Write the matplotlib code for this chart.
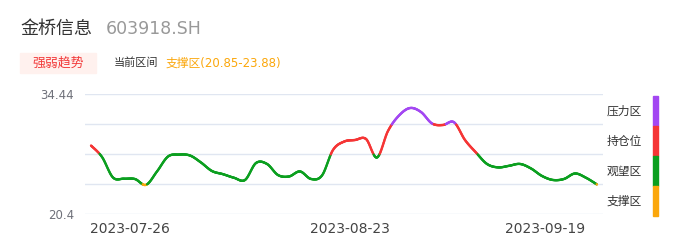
import numpy as np
import matplotlib
matplotlib.use("Agg")
import matplotlib.pyplot as plt
from matplotlib.collections import LineCollection
from matplotlib.patches import Rectangle

CJK = ['Noto Sans CJK SC', 'DejaVu Sans']
LATIN_FIRST = ['DejaVu Sans', 'Noto Sans CJK SC']

# data
prices = [28.43, 27.09, 24.68, 24.54, 24.50, 23.82, 25.39, 27.14, 27.37, 27.26,
          26.44, 25.44, 25.07, 24.65, 24.39, 26.38, 26.27, 24.97, 24.80, 25.39,
          24.51, 24.92, 27.91, 28.89, 29.08, 29.20, 27.03, 30.14, 31.95, 32.83,
          32.36, 31.02, 30.84, 31.16, 29.08, 27.61, 26.27, 25.87, 26.05, 26.27,
          25.74, 24.86, 24.39, 24.51, 25.15, 24.65, 23.86]
tick_labels = ['2023-07-26', '2023-08-23', '2023-09-19']
tick_index = [3.55, 23.55, 41.27]
y_min, y_max = 20.4, 34.44
zone_names = ['压力区', '持仓位', '观望区', '支撑区']
zone_colors = ['#a347f2', '#f53535', '#0b9f1f', '#fba70c']
support = (20.85, 23.88)
stock_name = '金桥信息'
stock_code = '603918.SH'

step = (y_max - y_min) / 4
bounds = [y_min + 3 * step, y_min + 2 * step, support[1]]  # purple/red, red/green, green/orange


def catmull(x, y, n=20):
    x = np.asarray(x, float)
    y = np.asarray(y, float)
    px = np.concatenate([[x[0]], x, [x[-1]]])
    py = np.concatenate([[y[0]], y, [y[-1]]])
    xs, ys = [], []
    t = np.linspace(0, 1, n, endpoint=False)
    for i in range(1, len(px) - 2):
        for arr, out in ((px, xs), (py, ys)):
            p0, p1, p2, p3 = arr[i - 1], arr[i], arr[i + 1], arr[i + 2]
            out.append(0.5 * ((2 * p1) + (-p0 + p2) * t
                              + (2 * p0 - 5 * p1 + 4 * p2 - p3) * t ** 2
                              + (-p0 + 3 * p1 - 3 * p2 + p3) * t ** 3))
    xs.append([x[-1]])
    ys.append([y[-1]])
    return np.concatenate(xs), np.concatenate(ys)


def zone_color(v):
    if v > bounds[0]:
        return zone_colors[0]
    if v > bounds[1]:
        return zone_colors[1]
    if v > bounds[2]:
        return zone_colors[2]
    return zone_colors[3]


fig = plt.figure(figsize=(6.86, 2.47), dpi=100)
ax = fig.add_axes([85 / 686, 1 - 214 / 247, (603 - 85) / 686, (214 - 94.3) / 247])

idx = np.arange(len(prices))
sx, sy = catmull(idx, prices)
pts = np.column_stack([sx, sy]).reshape(-1, 1, 2)
segs = np.concatenate([pts[:-1], pts[1:]], axis=1)
cols = [zone_color((a + b) / 2) for a, b in zip(sy[:-1], sy[1:])]
ax.add_collection(LineCollection(segs, colors=cols, linewidths=1.7,
                                 capstyle='round', joinstyle='round', zorder=3))

ax.set_xlim(-0.545, len(prices) - 1 + 0.545)
ax.set_ylim(y_min, y_max)
ax.set_yticks(np.linspace(y_min, y_max, 5))
ax.set_yticklabels([f'{y_min:g}', '', '', '', f'{y_max:g}'])
ax.set_xticks(tick_index)
ax.set_xticklabels(tick_labels)
ax.tick_params(axis='y', length=0, pad=8, labelsize=8.5, labelcolor='#6e7079')
ax.tick_params(axis='x', length=0, pad=6, labelsize=10, labelcolor='#444444')
ax.grid(axis='y', color='#e0e6f1', linewidth=1)
ax.set_axisbelow(True)
for s in ax.spines.values():
    s.set_visible(False)

# header
fig.text(20 / 686, 1 - 29 / 247, stock_name, family=CJK, fontsize=13,
         color='#333333', va='center', ha='left')
fig.text(106 / 686, 1 - 29 / 247, stock_code, family=LATIN_FIRST, fontsize=12.5,
         color='#999999', va='center', ha='left')
fig.patches.append(Rectangle((20 / 686, 1 - 73.5 / 247), 76 / 686, 20.5 / 247,
                             transform=fig.transFigure, color='#fff1ee', zorder=0))
fig.text(58 / 686, 1 - 63 / 247, '强弱趋势', family=CJK, fontsize=9.3,
         color='#f23a3a', va='center', ha='center')
fig.text(114 / 686, 1 - 63 / 247, '当前区间', family=CJK, fontsize=8,
         color='#333333', va='center', ha='left')
fig.text(165.5 / 686, 1 - 63 / 247,
         f'{zone_names[3]}({support[0]:.2f}-{support[1]:.2f})',
         family=LATIN_FIRST, fontsize=8.5, color='#fba70c', va='center', ha='left')

# right legend
for k, (name, c) in enumerate(zip(zone_names, zone_colors)):
    top = 96 + 30 * k
    fig.text(607 / 686, 1 - (top + 15) / 247, name, family=CJK, fontsize=8.5,
             color='#333333', va='center', ha='left')
    fig.patches.append(Rectangle((653.3 / 686, 1 - (top + 30) / 247), 5 / 686, 30 / 247,
                                 transform=fig.transFigure, color=c))

fig.savefig('out.png', dpi=100)
